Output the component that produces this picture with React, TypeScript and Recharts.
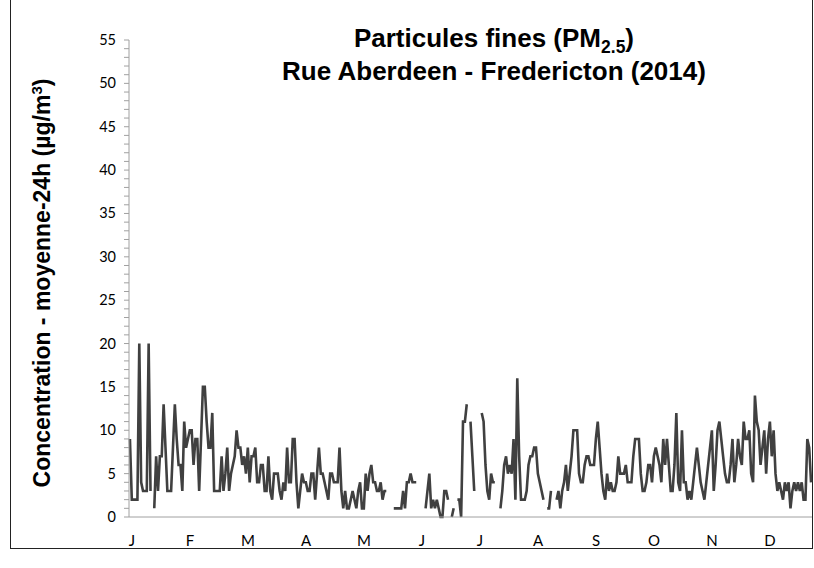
import { LineChart, Line, XAxis, YAxis } from "recharts";

// daily 24h mean PM2.5 (µg/m3), null = no data
const jan = [9, 2, 2, 2, 2, 20, 4, 3, 3, 3, 20, 3, null, 1, 7, 3, 7, 7, 13, 8, 3, 3, 3, 8, 13, 9, 6, 6, 3, 11, 8];
const feb = [9, 10, 10, 6, 9, 9, 3, 9, 15, 15, 11, 8, 8, 12, 3, 3, 3, 3, 7, 3, 5, 8, 3, 5, 6, 7, 10, 8];
const mar = [8, 6, 7, 5, 8, 4, 7, 7, 8, 4, 4, 6, 6, 3, 3, 7, 3, 2, 5, 5, 5, 3, 2, 4, 3, 8, 4, 4, 9, 9, 4];
const apr = [1, 3, 5, 4, 4, 3, 3, 5, 5, 2, 5, 8, 5, 5, 4, 3, 2, 5, 5, 4, 4, 4, 8, 3, 1, 3, 1, 1, 2, 3];
const may = [2, 1, 3, 4, 1, 1, 5, 3, 5, 6, 4, 4, 3, 3, 4, 2, 3, 3, null, null, null, 1, 1, 1, 1, 1, 3, 1, 4, 4, 5];
const jun = [4, 4, 4, null, null, null, null, 1, 3, 5, 1, 2, 1, 2, 1, 0, 0, 3, 3, 2, null, 0, 1, null, 2, 2, 0, 11, 11, 13];
const jul = [null, 11, 7, 3, null, null, null, 12, 11, 6, 3, 2, 5, 4, 4, null, null, 1, 3, 6, 7, 5, 6, 5, 9, 2, 16, 7, 2, 2, 2];
const aug = [3, 6, 7, 7, 8, 8, 5, 4, 3, 2, null, 1, 1, 3, null, null, 2, 3, 1, 3, 4, 6, 3, 5, 7, 10, 10, 10, 5, 4, 4];
const sep = [6, 7, 7, 6, 6, 6, 9, 11, 8, 5, 3, 2, 5, 3, 4, 3, 3, 4, 7, 5, 5, 5, 6, 4, 4, 4, 7, 9, 9, 9];
const oct = [5, 3, 3, 4, 6, 6, 4, 7, 8, 7, 6, 4, 9, 6, 9, 6, 3, 3, 6, 12, 4, 3, 10, 4, 4, 2, 3, 2, 4, 6, 8];
const nov = [6, 4, 3, 2, 4, 6, 8, 10, 3, 6, 10, 11, 9, 7, 5, 4, 4, 6, 9, 4, 6, 9, 7, 6, 11, 9, 9, 10, 5, 4];
const dec = [14, 11, 10, 6, 8, 10, 5, 9, 11, 7, 10, 5, 3, 4, 3, 2, 4, 3, 4, 1, 3, 4, 3, 4, 3, 4, 2, 2, 9, 8, 4, 6, 6];

const monthLabels = ["J", "F", "M", "A", "M", "J", "J", "A", "S", "O", "N", "D"];
// the category axis puts a label every 31 days
const labelDays = monthLabels.map((_, i) => i * 31);
const yTicks = Array.from({ length: 56 }, (_, i) => i);

const data = [...jan, ...feb, ...mar, ...apr, ...may, ...jun, ...jul, ...aug, ...sep, ...oct, ...nov, ...dec]
  .slice(0, 365)
  .map((v, i) => ({ day: i, pm: v }));

const AXIS_X = 129;
const AXIS_Y = 517;
const tickFont = "Lato, 'Open Sans', sans-serif";
const titleFont = "'Liberation Sans', Arial, sans-serif";

const YTick = (props: any) => {
  const { y, payload } = props;
  const v = payload.value;
  return (
    <g>
      <line x1={AXIS_X - 5} x2={AXIS_X} y1={y} y2={y} stroke="#a0a0a0" />
      {v % 5 === 0 && (
        <text x={AXIS_X - 13} y={y} dy={5} textAnchor="end" fontSize={14.5} fill="#000" fontFamily={tickFont}>
          {v}
        </text>
      )}
    </g>
  );
};

const XTick = (props: any) => {
  const { x, payload } = props;
  const i = labelDays.indexOf(payload.value);
  return (
    <text x={x + 2} y={AXIS_Y + 29} textAnchor="middle" fontSize={15} fill="#000" fontFamily={tickFont}>
      {monthLabels[i]}
    </text>
  );
};

export default function App() {
  return (
    <div style={{ position: "absolute", left: 0, top: 0, width: 814, height: 568, background: "#fff" }}>
      <div
        style={{
          position: "absolute",
          left: 10,
          top: -2,
          width: 803,
          height: 551,
          border: "1px solid #222",
          boxSizing: "border-box",
        }}
      />
      <LineChart width={814} height={568} data={data} margin={{ top: 40, right: 2, left: 89, bottom: 21 }}>
        <XAxis
          dataKey="day"
          type="number"
          domain={[-0.5, 364.5]}
          ticks={labelDays}
          interval={0}
          tickLine={false}
          stroke="#a0a0a0"
          tick={<XTick />}
          height={30}
        />
        <YAxis
          domain={[0, 55]}
          ticks={yTicks}
          interval={0}
          tickLine={false}
          stroke="#a0a0a0"
          tick={<YTick />}
          width={40}
        />
        <Line
          type="linear"
          dataKey="pm"
          stroke="#404040"
          strokeWidth={2.6}
          dot={false}
          connectNulls={false}
          isAnimationActive={false}
        />
      </LineChart>
      <svg width={814} height={568} style={{ position: "absolute", left: 0, top: 0, pointerEvents: "none" }}>
        <text x={494} y={47} textAnchor="middle" fontFamily={titleFont} fontWeight="bold" fontSize={26} fill="#000">
          Particules fines (PM
          <tspan fontSize={17.5} dy={6}>2.5</tspan>
          <tspan dy={-6}>)</tspan>
        </text>
        <text x={494} y={80} textAnchor="middle" fontFamily={titleFont} fontWeight="bold" fontSize={26} fill="#000">
          Rue Aberdeen - Fredericton (2014)
        </text>
        <text
          x={0}
          y={0}
          transform="translate(50 283) rotate(-90)"
          textAnchor="middle"
          fontFamily={titleFont}
          fontWeight="bold"
          fontSize={23}
          fill="#000"
        >
          Concentration - moyenne-24h (µg/m
          <tspan fontSize={15} dy={-8}>3</tspan>
          <tspan dy={8}>)</tspan>
        </text>
      </svg>
    </div>
  );
}
